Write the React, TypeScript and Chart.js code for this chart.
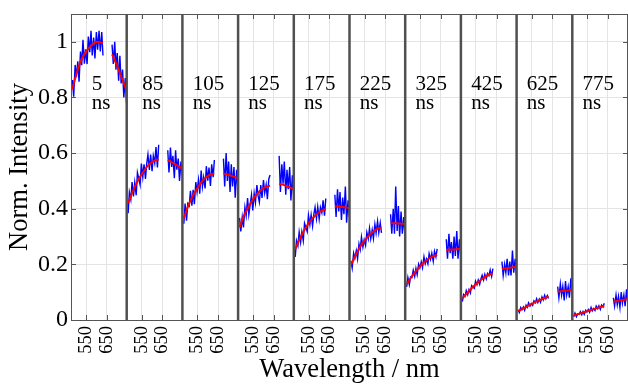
import React, { useEffect, useRef } from "react";
import { Chart, registerables } from "chart.js";
Chart.register(...registerables);

// ---- data ----
const PANEL_LABELS = ["5", "85", "105", "125", "175", "225", "325", "425", "625", "775"];
const UNIT_LABEL = "ns";
const PANEL_START_WL = 477;
const PANEL_SPAN_WL = 270;
const LABEL_WL = 603;
const LABEL_Y = 0.827;
const X_TICK_WL = [550, 650];
const Y_TICKS = [0, 0.2, 0.4, 0.6, 0.8, 1];
const Y_TICK_LABELS = ["0", "0.2", "0.4", "0.6", "0.8", "1"];
const Y_MAX = 1.1;
const X_TITLE = "Wavelength / nm";
const Y_TITLE = "Norm. Intensity";

const WL_SEG1 = [484, 490, 497, 503, 510, 516, 523, 529, 535, 542, 548, 555, 561, 568, 574, 580, 587, 593, 600, 606, 613, 619, 626, 632];
const WL_SEG2 = [676, 682, 689, 695, 701, 708, 714, 720, 727, 733, 740, 746];
const FIT_WL_SEG1 = [484, 505, 530, 555, 580, 605, 632];
const FIT_WL_SEG2 = [676, 700, 723, 746];

const BLUE_SEG1 = [
  [0.863, 0.803, 0.917, 0.873, 0.930, 0.857, 0.965, 0.916, 1.007, 0.921, 0.973, 0.920, 1.019, 0.963, 1.040, 0.951, 1.015, 0.940, 1.035, 0.972, 1.040, 0.965, 1.035, 0.951],
  [0.384, 0.459, 0.433, 0.496, 0.444, 0.494, 0.449, 0.530, 0.510, 0.486, 0.562, 0.514, 0.560, 0.507, 0.561, 0.595, 0.539, 0.595, 0.535, 0.590, 0.564, 0.622, 0.548, 0.630],
  [0.346, 0.419, 0.357, 0.418, 0.410, 0.464, 0.411, 0.468, 0.416, 0.496, 0.460, 0.504, 0.454, 0.537, 0.479, 0.513, 0.473, 0.553, 0.501, 0.548, 0.482, 0.560, 0.513, 0.575],
  [0.367, 0.318, 0.370, 0.333, 0.405, 0.375, 0.438, 0.379, 0.412, 0.450, 0.394, 0.455, 0.422, 0.485, 0.446, 0.424, 0.485, 0.439, 0.503, 0.457, 0.486, 0.434, 0.508, 0.521],
  [0.227, 0.285, 0.267, 0.316, 0.279, 0.317, 0.285, 0.348, 0.334, 0.318, 0.377, 0.343, 0.378, 0.338, 0.379, 0.405, 0.364, 0.407, 0.363, 0.405, 0.386, 0.430, 0.375, 0.437],
  [0.213, 0.187, 0.240, 0.222, 0.249, 0.220, 0.273, 0.253, 0.298, 0.262, 0.288, 0.268, 0.315, 0.292, 0.330, 0.292, 0.324, 0.293, 0.344, 0.313, 0.355, 0.314, 0.349, 0.313],
  [0.119, 0.153, 0.127, 0.155, 0.153, 0.179, 0.157, 0.185, 0.163, 0.201, 0.187, 0.209, 0.188, 0.227, 0.202, 0.219, 0.202, 0.239, 0.218, 0.240, 0.211, 0.247, 0.227, 0.256],
  [0.066, 0.092, 0.085, 0.106, 0.091, 0.109, 0.097, 0.124, 0.119, 0.114, 0.140, 0.127, 0.144, 0.128, 0.148, 0.161, 0.144, 0.164, 0.148, 0.167, 0.159, 0.180, 0.157, 0.185],
  [0.037, 0.027, 0.045, 0.037, 0.047, 0.035, 0.053, 0.046, 0.062, 0.050, 0.059, 0.052, 0.069, 0.062, 0.076, 0.063, 0.075, 0.064, 0.083, 0.072, 0.089, 0.076, 0.088, 0.077],
  [0.012, 0.025, 0.012, 0.022, 0.020, 0.030, 0.019, 0.030, 0.020, 0.035, 0.029, 0.038, 0.028, 0.045, 0.033, 0.041, 0.034, 0.050, 0.041, 0.051, 0.038, 0.054, 0.047, 0.060],
];

const BLUE_SEG2 = [
  [0.99, 0.92, 1.00, 0.90, 0.96, 0.86, 0.95, 0.85, 0.90, 0.80, 0.87, 0.78],
  [0.61, 0.53, 0.62, 0.55, 0.59, 0.51, 0.61, 0.54, 0.58, 0.50, 0.57, 0.52],
  [0.58, 0.48, 0.60, 0.50, 0.57, 0.46, 0.56, 0.48, 0.55, 0.44, 0.54, 0.47],
  [0.59, 0.46, 0.56, 0.49, 0.57, 0.45, 0.54, 0.47, 0.55, 0.43, 0.52, 0.45],
  [0.45, 0.37, 0.47, 0.39, 0.46, 0.36, 0.44, 0.38, 0.48, 0.35, 0.43, 0.37],
  [0.38, 0.31, 0.40, 0.31, 0.48, 0.32, 0.41, 0.30, 0.39, 0.31, 0.37, 0.30],
  [0.29, 0.22, 0.31, 0.24, 0.28, 0.22, 0.30, 0.23, 0.32, 0.22, 0.29, 0.23],
  [0.21, 0.16, 0.20, 0.17, 0.22, 0.16, 0.21, 0.16, 0.25, 0.17, 0.22, 0.16],
  [0.12, 0.08, 0.13, 0.09, 0.12, 0.07, 0.14, 0.09, 0.12, 0.08, 0.15, 0.09],
  [0.08, 0.05, 0.09, 0.055, 0.085, 0.045, 0.10, 0.06, 0.09, 0.05, 0.11, 0.06],
];

const FIT_SEG1 = [
  [0.83, 0.89, 0.94, 0.97, 0.99, 1.0, 0.995],
  [0.42, 0.46, 0.50, 0.53, 0.555, 0.57, 0.578],
  [0.366, 0.41, 0.45, 0.48, 0.505, 0.52, 0.527],
  [0.333, 0.375, 0.41, 0.44, 0.462, 0.476, 0.483],
  [0.254, 0.29, 0.325, 0.355, 0.375, 0.39, 0.398],
  [0.198, 0.23, 0.265, 0.29, 0.31, 0.325, 0.333],
  [0.128, 0.152, 0.177, 0.198, 0.215, 0.227, 0.234],
  [0.078, 0.095, 0.115, 0.132, 0.148, 0.16, 0.168],
  [0.032, 0.04, 0.05, 0.06, 0.069, 0.077, 0.084],
  [0.016, 0.021, 0.027, 0.033, 0.039, 0.045, 0.05],
];

const FIT_SEG2 = [
  [0.955, 0.915, 0.87, 0.825],
  [0.575, 0.565, 0.555, 0.544],
  [0.527, 0.522, 0.516, 0.51],
  [0.49, 0.485, 0.478, 0.471],
  [0.408, 0.407, 0.405, 0.402],
  [0.348, 0.348, 0.347, 0.345],
  [0.252, 0.253, 0.254, 0.255],
  [0.183, 0.186, 0.189, 0.192],
  [0.102, 0.104, 0.106, 0.108],
  [0.066, 0.069, 0.072, 0.075],
];

// ---- styling ----
const FONT = "'Liberation Serif', 'Times New Roman', serif";
const BLUE = "#0000ff";
const RED = "#ff0000";
const GRID = "#e4e4e4";
const AXIS = "#555555";

const toX = (panel: number, wl: number) => panel * PANEL_SPAN_WL + (wl - PANEL_START_WL);

function buildDatasets() {
  const fits: any[] = [];
  const blues: any[] = [];
  for (let p = 0; p < PANEL_LABELS.length; p++) {
    fits.push({
      data: FIT_WL_SEG1.map((wl, k) => ({ x: toX(p, wl), y: FIT_SEG1[p][k] })),
      borderColor: RED, borderWidth: 2, cubicInterpolationMode: "monotone",
    });
    fits.push({
      data: FIT_WL_SEG2.map((wl, k) => ({ x: toX(p, wl), y: FIT_SEG2[p][k] })),
      borderColor: RED, borderWidth: 2, cubicInterpolationMode: "monotone",
    });
    blues.push({
      data: WL_SEG1.map((wl, k) => ({ x: toX(p, wl), y: BLUE_SEG1[p][k] })),
      borderColor: BLUE, borderWidth: 1.4, tension: 0,
    });
    blues.push({
      data: WL_SEG2.map((wl, k) => ({ x: toX(p, wl), y: BLUE_SEG2[p][k] })),
      borderColor: BLUE, borderWidth: 1.4, tension: 0,
    });
  }
  return [...fits, ...blues];
}

const overlayPlugin = {
  id: "overlay",
  afterDatasetsDraw(chart: any) {
    const { ctx, chartArea: a, scales } = chart;
    const xs = scales.x;
    const ys = scales.y;
    ctx.save();
    const line = (x1: number, y1: number, x2: number, y2: number) => {
      ctx.beginPath();
      ctx.moveTo(x1, y1);
      ctx.lineTo(x2, y2);
      ctx.stroke();
    };
    ctx.strokeStyle = AXIS;
    ctx.lineWidth = 1;
    xs.ticks.forEach((t: any) => {
      const px = Math.round(xs.getPixelForValue(t.value)) + 0.5;
      line(px, a.bottom, px, a.bottom - 5);
      line(px, a.top, px, a.top + 5);
    });
    Y_TICKS.forEach((v) => {
      const py = Math.round(ys.getPixelForValue(v)) + 0.5;
      line(a.left, py, a.left + 5, py);
      line(a.right, py, a.right - 5, py);
    });
    ctx.strokeRect(a.left + 0.5, a.top + 0.5, a.right - a.left - 1, a.bottom - a.top);
    ctx.lineWidth = 2.5;
    ctx.strokeStyle = "#505050";
    for (let p = 1; p < PANEL_LABELS.length; p++) {
      const px = xs.getPixelForValue(p * PANEL_SPAN_WL);
      line(px, a.top, px, a.bottom);
    }
    ctx.fillStyle = "#000";
    ctx.font = `21px ${FONT}`;
    ctx.textAlign = "left";
    ctx.textBaseline = "alphabetic";
    PANEL_LABELS.forEach((lab, p) => {
      const cx = xs.getPixelForValue(toX(p, LABEL_WL));
      const by = ys.getPixelForValue(LABEL_Y);
      const w = ctx.measureText(lab).width;
      const left = cx - w / 2;
      ctx.fillText(lab, left, by);
      ctx.fillText(UNIT_LABEL, left, by + 19.5);
    });
    ctx.restore();
  },
};

export default function App() {
  const ref = useRef<HTMLCanvasElement | null>(null);
  useEffect(() => {
    if (!ref.current) return;
    const xTicks: number[] = [];
    for (let p = 0; p < PANEL_LABELS.length; p++) {
      X_TICK_WL.forEach((wl) => xTicks.push(toX(p, wl)));
    }
    const chart = new Chart(ref.current, {
      type: "line",
      data: { datasets: buildDatasets() as any },
      options: {
        animation: false,
        responsive: false,
        devicePixelRatio: 1,
        layout: { padding: { top: 14, right: 0, left: 0, bottom: 0 } },
        elements: { point: { radius: 0 } },
        plugins: { legend: { display: false }, tooltip: { enabled: false } },
        scales: {
          x: {
            type: "linear",
            min: 0,
            max: PANEL_LABELS.length * PANEL_SPAN_WL,
            afterBuildTicks: (s: any) => {
              s.ticks = xTicks.map((v) => ({ value: v }));
            },
            afterFit: (s: any) => {
              s.height = 67;
              s.paddingLeft = 0;
              s.paddingRight = 0;
            },
            ticks: {
              autoSkip: false,
              minRotation: 90,
              maxRotation: 90,
              padding: 6,
              color: "#000",
              font: { family: FONT, size: 18.5 },
              callback: (_v: any, i: number) => String(X_TICK_WL[i % X_TICK_WL.length]),
            },
            grid: { color: GRID, drawTicks: false, lineWidth: 1 },
            border: { display: false },
            title: {
              display: true,
              text: X_TITLE,
              color: "#000",
              font: { family: FONT, size: 26.5 },
              padding: { top: 0, bottom: 1 },
            },
          },
          y: {
            type: "linear",
            min: 0,
            max: Y_MAX,
            afterBuildTicks: (s: any) => {
              s.ticks = Y_TICKS.map((v) => ({ value: v }));
            },
            afterFit: (s: any) => {
              s.width = 71;
              s.paddingTop = 0;
              s.paddingBottom = 0;
            },
            ticks: {
              padding: 3,
              color: "#000",
              font: { family: FONT, size: 24 },
              callback: (_v: any, i: number) => Y_TICK_LABELS[i],
            },
            grid: { color: GRID, drawTicks: false, lineWidth: 1 },
            border: { display: false },
            title: {
              display: true,
              text: Y_TITLE,
              color: "#000",
              font: { family: FONT, size: 26.5 },
              padding: { top: 4, bottom: 0 },
            },
          },
        },
      },
      plugins: [overlayPlugin],
    });
    return () => chart.destroy();
  }, []);
  return (
    <div style={{ position: "fixed", left: 0, top: 0, width: 628, height: 387, background: "#fff" }}>
      <canvas ref={ref} width={628} height={387} />
    </div>
  );
}
